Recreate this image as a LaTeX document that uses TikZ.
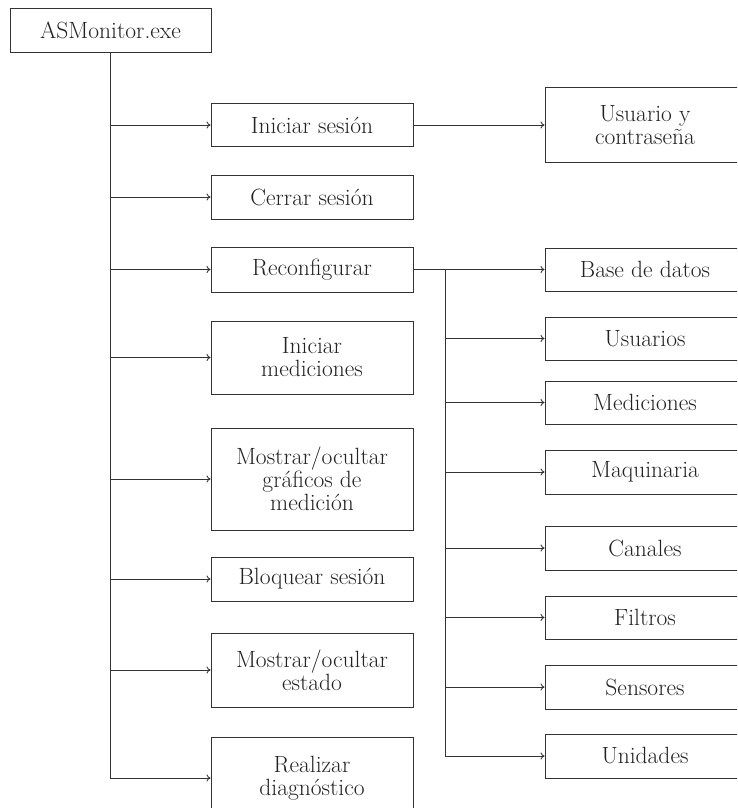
\documentclass[tikz,border=0pt]{standalone}
\usetikzlibrary{arrows.meta}
\definecolor{ink}{HTML}{333333}
\definecolor{txt}{HTML}{222222}
\begin{document}
\begin{tikzpicture}[x=1pt,y=-1pt,
  box/.style={draw=ink, line width=0.9pt, rectangle, inner sep=0pt,
    align=center, text=txt, font=\fontsize{23.5}{23}\selectfont},
  lone/.style={box, minimum width=202pt},
  ltwo/.style={box, minimum width=200pt},
  arr/.style={draw=ink, line width=0.9pt, -{To[length=4pt,width=7pt]}}
]
\useasboundingbox (0,0) rectangle (737,808);
\clip (0,0) rectangle (737,808);

% root
\node[box, minimum width=201pt, minimum height=44pt] (asm) at (110.5,30) {ASMonitor.exe};

% first level
\node[lone, minimum height=43pt]  (ini)  at (312,125)   {Iniciar sesión};
\node[lone, minimum height=44pt]  (cer)  at (312,197)   {Cerrar sesión};
\node[lone, minimum height=45pt]  (rec)  at (312,269.5) {Reconfigurar};
\node[lone, minimum height=73pt]  (med)  at (312,357.5) {Iniciar\\mediciones};
\node[lone, minimum height=102pt] (gra)  at (312,479)   {Mostrar/ocultar\\gráficos de\\medición};
\node[lone, minimum height=44pt]  (blo)  at (312,579)   {Bloquear sesión};
\node[lone, minimum height=74pt]  (est)  at (312,670)   {Mostrar/ocultar\\estado};
\node[lone, minimum height=82pt]  (dia)  at (312,778)   {Realizar\\diagnóstico};

% second level
\node[ltwo, minimum height=75pt] (usu)  at (645,125)   {Usuario y\\contraseña};
\node[ltwo, minimum height=43pt] (bd)   at (645,269.5) {Base de datos};
\node[ltwo, minimum height=43pt] (us)   at (645,338.5) {Usuarios};
\node[ltwo, minimum height=43pt] (mc)   at (645,402.5) {Mediciones};
\node[ltwo, minimum height=44pt] (maq)  at (645,472)   {Maquinaria};
\node[ltwo, minimum height=44pt] (can)  at (645,548)   {Canales};
\node[ltwo, minimum height=43pt] (fil)  at (645,617.5) {Filtros};
\node[ltwo, minimum height=44pt] (sen)  at (645,687)   {Sensores};
\node[ltwo, minimum height=44pt] (uni)  at (645,756)   {Unidades};

% branches from the root
\foreach \n in {ini,cer,rec,med,gra,blo,est,dia}
  \draw[arr] (asm.south) |- (\n.west);

% login detail
\draw[arr] (ini.east) -- (ini.east -| usu.west);

% configuration branches
\coordinate (split) at ([xshift=32pt]rec.east);
\draw[arr] (rec.east) -- (rec.east -| bd.west);
\foreach \n in {us,mc,maq,can,fil,sen,uni}
  \draw[arr] (split) |- (\n.west);
\end{tikzpicture}
\end{document}
